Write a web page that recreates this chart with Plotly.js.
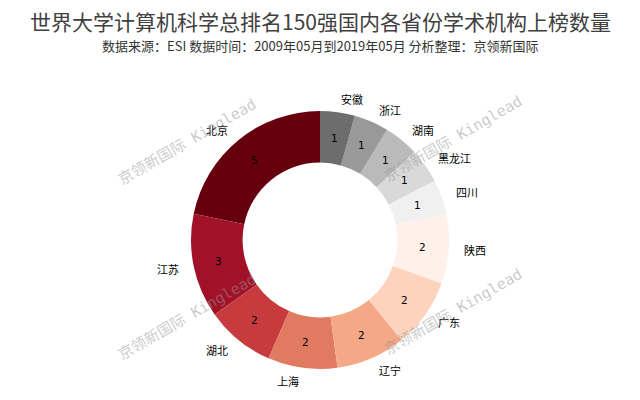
<!DOCTYPE html>
<html><head><meta charset="utf-8">
<script src="https://cdn.plot.ly/plotly-3.0.1.min.js"></script>
<style>html,body{margin:0;padding:0;background:#fff}#chart{width:640px;height:400px}</style>
</head><body><div id="chart"></div>
<script>
const provinces = ["北京","江苏","湖北","上海","辽宁","广东","陕西","四川","黑龙江","湖南","浙江","安徽"];
const counts = [5,3,2,2,2,2,2,1,1,1,1,1];
const sliceColors = ["#67000d","#a11228","#c73b3e","#e07b62","#f5a886","#fdd3bd","#fff0e9","#f0f0f0","#d9d9d9","#bababa","#999999","#6d6d6d"];
const titleText = "世界大学计算机科学总排名150强国内各省份学术机构上榜数量";
const subtitleText = "数据来源：ESI 数据时间：2009年05月到2019年05月 分析整理：京领新国际";
const watermarkText = "京领新国际 Kinglead";

const W = 640, H = 400;
const cx = 320, cy = 240, R = 129, holeFrac = 0.6;
const font = "Noto Sans CJK SC, sans-serif";

const total = counts.reduce((a,b)=>a+b,0);
const annotations = [];
let start = 90;
counts.forEach((v,i)=>{
  const sweep = v/total*360;
  const mid = (start + sweep/2) * Math.PI/180;
  start += sweep;
  const cs = Math.cos(mid), sn = Math.sin(mid);
  const lx = cx + 1.1*R*cs, ly = cy - 1.1*R*sn;
  annotations.push({x: lx/W, y: 1-ly/H, xref:'paper', yref:'paper', text: provinces[i], showarrow:false,
    xanchor: cs > 0 ? 'left' : 'right', yanchor:'middle', font:{family:font, size:11, color:'#000'}});
  const vx = cx + 0.8*R*cs, vy = cy - 0.8*R*sn;
  annotations.push({x: vx/W, y: 1-vy/H, xref:'paper', yref:'paper', text: String(v), showarrow:false,
    xanchor:'center', yanchor:'middle', font:{family:"DejaVu Sans, sans-serif", size:10.5, color:'#000'}});
});

annotations.push({x:0.5, y:1-21/H, xref:'paper', yref:'paper', text:titleText, showarrow:false,
  xanchor:'center', yanchor:'middle', font:{family:font, size:21, color:'#404040'}});
annotations.push({x:0.5, y:1-45/H, xref:'paper', yref:'paper', text:subtitleText, showarrow:false,
  xanchor:'center', yanchor:'middle', font:{family:font, size:13, color:'#333333'}});

const wmPos = [[187,142],[453,139],[187,317],[453,312]];
wmPos.forEach(p=>{
  annotations.push({x:p[0]/W, y:1-p[1]/H, xref:'paper', yref:'paper', text:watermarkText, showarrow:false,
    textangle:-30, xanchor:'center', yanchor:'middle',
    font:{family:"DejaVu Sans Mono, Noto Sans CJK SC, monospace", size:15, color:'rgba(150,150,150,0.5)'}});
});

const trace = {
  type:'pie', labels: provinces, values: counts, sort:false, direction:'counterclockwise',
  rotation: -counts[0]/total*360,
  hole: holeFrac, textinfo:'none', hoverinfo:'skip',
  marker:{colors: sliceColors, line:{width:0}},
  domain:{x:[(cx-R)/W,(cx+R)/W], y:[1-(cy+R)/H, 1-(cy-R)/H]}
};

Plotly.newPlot('chart',[trace],{
  width:W, height:H, margin:{l:0,r:0,t:0,b:0}, showlegend:false,
  paper_bgcolor:'#fff', plot_bgcolor:'#fff', annotations: annotations
},{displayModeBar:false, staticPlot:true});
</script></body></html>
